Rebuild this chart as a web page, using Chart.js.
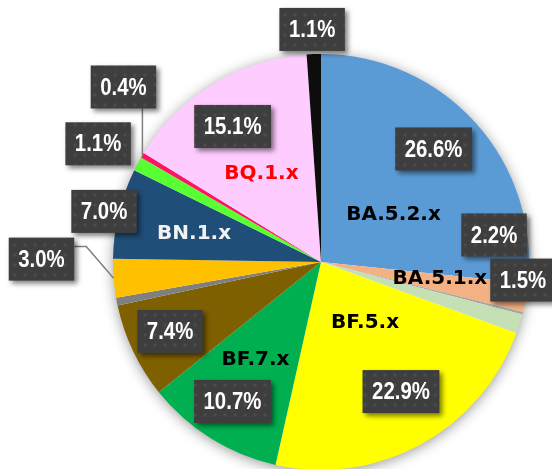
<!DOCTYPE html>
<html>
<head>
<meta charset="utf-8">
<script src="https://cdn.jsdelivr.net/npm/chart.js@4.4.1/dist/chart.umd.min.js"></script>
<style>
  html, body { margin: 0; padding: 0; background: #fff; overflow: hidden; }
  #wrap { width: 552px; height: 474px; }
</style>
</head>
<body>
<div id="wrap"><canvas id="myChart"></canvas></div>
<script>
// slices, clockwise from 12 o'clock
const lineages = ['BA.5.2.x', 'BA.5.1.x', '', '', 'BF.5.x', 'BF.7.x', '', '', '', 'BN.1.x', '', '', 'BQ.1.x', ''];
const shares = [26.6, 2.2, 0.2, 1.5, 22.9, 10.7, 7.4, 0.6, 3.0, 7.0, 1.1, 0.4, 15.1, 1.1];
const shareLabels = ['26.6%', '2.2%', '', '1.5%', '22.9%', '10.7%', '7.4%', '', '3.0%', '7.0%', '1.1%', '0.4%', '15.1%', '1.1%'];
const colors = ['#5b9bd5', '#f4b183', '#a5a5a5', '#c5e0b4', '#ffff00', '#00b050', '#7f6000',
                '#7f7f7f', '#ffc000', '#1f4e79', '#57ff33', '#ff1464', '#ffccff', '#0d0d0d'];
const nameColors = ['#000', '#000', '', '', '#000', '#000', '', '', '', '#f2f2f2', '', '', '#ff0000', ''];

// label placement: [degrees away from slice middle, fraction of radius]
const pctSpots = [[-3.1, 0.767], [-18.8, 0.842], null, [-12.2, 0.975], [-3.0, 0.732], [0.5, 0.794],
                  [0.7, 0.799], null, [5.1, 1.344], [-0.4, 1.071], [-0.2, 1.213], [10.7, 1.269],
                  [-1.9, 0.778], [-0.2, 1.119]];
const nameSpots = [[8.5, 0.418], [-2.2, 0.577], null, null, [-7.6, 0.358], [2.1, 0.563], null, null, null,
                   [-0.6, 0.626], null, null, [-2.4, 0.517], null];
const leaders = {8: 'elbow', 11: 'up'};

const toRad = d => d * Math.PI / 180;

function boxPattern(ctx) {
  const c = document.createElement('canvas');
  c.width = 10; c.height = 10;
  const p = c.getContext('2d');
  p.fillStyle = '#3e3e3e';
  p.fillRect(0, 0, 10, 10);
  p.fillStyle = '#4b4b4b';
  p.beginPath(); p.arc(5, 5, 1.7, 0, Math.PI * 2); p.fill();
  return ctx.createPattern(c, 'repeat');
}

const pieShadow = {
  id: 'pieShadow',
  beforeDatasetsDraw(chart) {
    const arc = chart.getDatasetMeta(0).data[0];
    const p = arc.getProps(['x', 'y', 'outerRadius'], true);
    const ctx = chart.ctx;
    ctx.save();
    ctx.shadowColor = 'rgba(0,0,0,0.45)';
    ctx.shadowBlur = 14;
    ctx.shadowOffsetY = 2;
    ctx.fillStyle = '#fff';
    ctx.beginPath(); ctx.arc(p.x, p.y, p.outerRadius - 1, 0, Math.PI * 2); ctx.fill();
    ctx.restore();
  }
};

const pieLabels = {
  id: 'pieLabels',
  afterDatasetsDraw(chart) {
    const ctx = chart.ctx;
    const pattern = boxPattern(ctx);
    const arcs = chart.getDatasetMeta(0).data;
    const place = (arc, off, frac) => {
      const p = arc.getProps(['x', 'y', 'startAngle', 'endAngle', 'outerRadius'], true);
      const a = (p.startAngle + p.endAngle) / 2 + toRad(off);
      return { x: p.x + Math.cos(a) * p.outerRadius * frac, y: p.y + Math.sin(a) * p.outerRadius * frac };
    };

    // lineage names
    ctx.save();
    ctx.font = 'bold 20px "DejaVu Sans"';
    ctx.textAlign = 'center';
    ctx.textBaseline = 'middle';
    arcs.forEach((arc, i) => {
      if (!nameSpots[i]) return;
      const pt = place(arc, nameSpots[i][0], nameSpots[i][1]);
      ctx.fillStyle = nameColors[i];
      ctx.fillText(lineages[i], pt.x, pt.y + 1);
    });
    ctx.restore();

    // percentage boxes
    arcs.forEach((arc, i) => {
      if (!pctSpots[i]) return;
      const pt = place(arc, pctSpots[i][0], pctSpots[i][1]);
      ctx.save();
      ctx.font = 'bold 24px "Liberation Sans"';
      const tw = ctx.measureText(shareLabels[i]).width * 0.85;
      const w = tw + 19, h = 43;
      const bx = pt.x - w / 2, by = pt.y - h / 2;

      if (leaders[i]) {
        const edge = place(arc, 0, 1);
        ctx.strokeStyle = '#7f7f7f';
        ctx.lineWidth = 1.5;
        ctx.beginPath();
        if (leaders[i] === 'elbow') {
          ctx.moveTo(bx + w, by + 9);
          ctx.lineTo(bx + w + 12, by + 9);
          ctx.lineTo(edge.x, edge.y);
        } else {
          ctx.moveTo(edge.x, edge.y);
          ctx.lineTo(edge.x, by + h);
        }
        ctx.stroke();
      }

      ctx.shadowColor = 'rgba(0,0,0,0.5)';
      ctx.shadowBlur = 5;
      ctx.shadowOffsetX = 3;
      ctx.shadowOffsetY = 3;
      ctx.fillStyle = pattern;
      ctx.fillRect(bx, by, w, h);
      ctx.shadowColor = 'transparent';

      ctx.fillStyle = '#fff';
      ctx.textAlign = 'center';
      ctx.textBaseline = 'middle';
      ctx.translate(pt.x, pt.y + 1);
      ctx.scale(0.85, 1);
      ctx.fillText(shareLabels[i], 0, 0);
      ctx.restore();
    });
  }
};

const ctx = document.getElementById('myChart');

const chrt = new Chart(ctx, {
  type: 'pie',
  data: {
    labels: lineages,
    datasets: [{
      data: shares,
      backgroundColor: colors,
      borderWidth: 0
    }]
  },
  options: {
    responsive: true,
    maintainAspectRatio: false,
    animation: false,
    layout: {
      padding: { top: 54, bottom: 4, left: 113, right: 23 }
    },
    plugins: {
      legend: { display: false },
      tooltip: { enabled: false }
    }
  },
  plugins: [pieShadow, pieLabels]
});
</script>
</body>
</html>
